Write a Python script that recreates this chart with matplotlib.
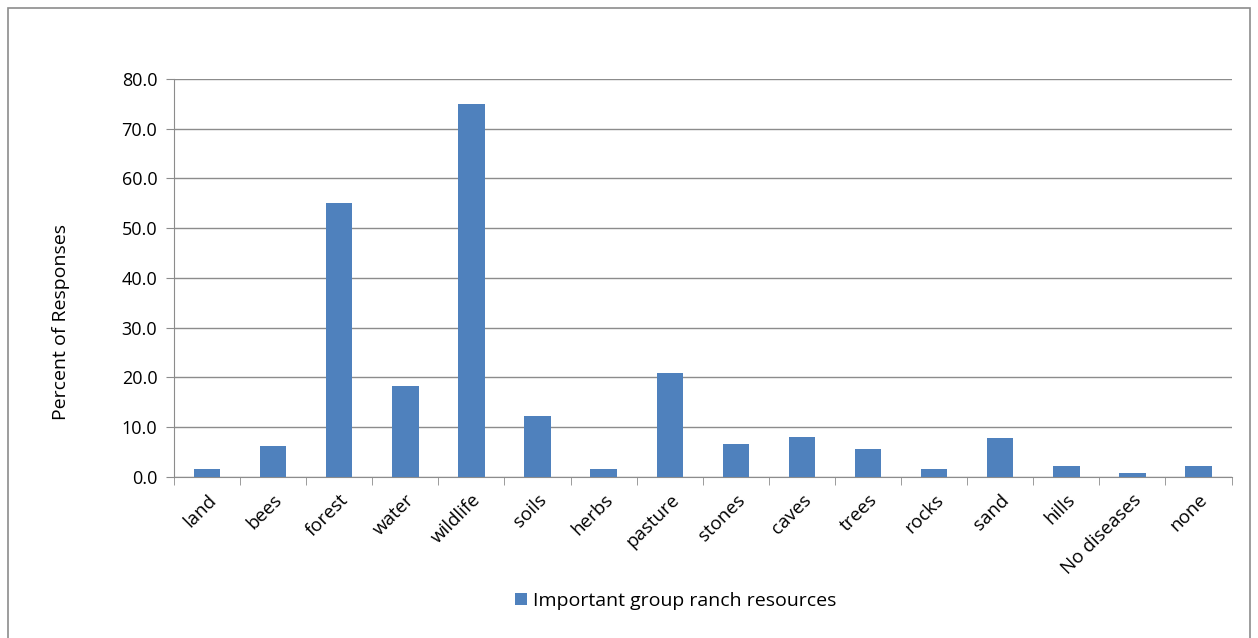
import matplotlib
matplotlib.use("Agg")
import matplotlib.pyplot as plt
from matplotlib.patches import Rectangle
from matplotlib.ticker import FormatStrFormatter
import numpy as np

categories = ["land", "bees", "forest", "water", "wildlife", "soils", "herbs", "pasture",
              "stones", "caves", "trees", "rocks", "sand", "hills", "No diseases", "none"]
percent = [1.7, 6.2, 55.0, 18.3, 75.0, 12.2, 1.7, 20.9,
           6.6, 8.0, 5.6, 1.7, 7.8, 2.3, 0.7, 2.3]
series_name = "Important group ranch resources"

plt.rcParams['font.family'] = ['Open Sans', 'DejaVu Sans']

fig = plt.figure(figsize=(12.58, 6.38), dpi=100)
ax = fig.add_axes([0.1383, 0.2524, 0.979 - 0.1383, 0.8762 - 0.2524])

x = np.arange(len(categories))
ax.bar(x, percent, width=0.4, color="#4F81BD", label=series_name, zorder=3)

ax.set_xlim(-0.5, len(categories) - 0.5)
ax.set_ylim(0, 80)
ax.set_yticks(np.arange(0, 81, 10))
ax.yaxis.set_major_formatter(FormatStrFormatter('%.1f'))
ax.grid(axis='y', color="#8c8c8c", linewidth=1, zorder=0)

ax.set_xticks(x)
ax.set_xticklabels(categories, rotation=45, ha='right', rotation_mode='anchor', fontsize=13.5)
ax.set_xticks(np.arange(-0.5, len(categories), 1), minor=True)
ax.tick_params(axis='x', which='major', length=0, pad=10)
ax.tick_params(axis='x', which='minor', length=6, color="#8c8c8c")
ax.tick_params(axis='y', length=6, color="#8c8c8c", labelsize=13, pad=6)

for side in ['top', 'right']:
    ax.spines[side].set_visible(False)
for side in ['left', 'bottom']:
    ax.spines[side].set_color("#8c8c8c")

ax.set_ylabel("Percent of Responses", fontsize=14)
ax.yaxis.set_label_coords(-0.098, 0.39)

fig.legend(loc='center', bbox_to_anchor=(0.537, 0.058), frameon=False, fontsize=14,
           handlelength=0.6, handleheight=0.6, handletextpad=0.3)

fig.patches.append(Rectangle((0.0064, -0.01), 0.9872, 1 - 0.0125 + 0.01, transform=fig.transFigure,
                             fill=False, edgecolor="#8c8c8c", linewidth=1.2))

fig.savefig("out.png", dpi=100)
